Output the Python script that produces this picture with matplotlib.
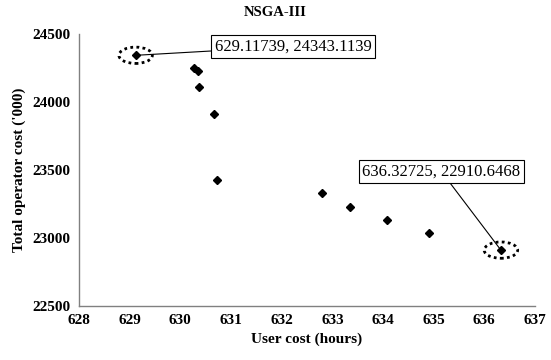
import matplotlib
matplotlib.use("Agg")
import matplotlib.pyplot as plt
from matplotlib.patches import Ellipse

plt.rcParams['font.family'] = ['Liberation Serif', 'DejaVu Serif']

# Pareto front points
user_cost = [629.11739, 630.26, 630.34, 630.37, 630.67, 630.72,
             632.79, 633.35, 634.07, 634.91, 636.32725]
operator_cost = [24343.1139, 24248, 24230, 24108, 23912, 23424,
                 23329, 23230, 23132, 23039, 22910.6468]

x_ticks = [628, 629, 630, 631, 632, 633, 634, 635, 636, 637]
y_ticks = [22500, 23000, 23500, 24000, 24500]

fig = plt.figure(figsize=(5.51, 3.6), dpi=100)
ax = fig.add_axes([0.1434, 0.15, 0.8276, 0.7556])

ax.plot(user_cost, operator_cost, linestyle='none', marker='D',
        markersize=4.5, color='black')

ax.set_xlim(628, 637)
ax.set_ylim(22500, 24500)
ax.set_xticks(x_ticks)
ax.set_yticks(y_ticks)
ax.tick_params(length=0, labelsize=11, pad=6)
for lab in ax.get_xticklabels() + ax.get_yticklabels():
    lab.set_fontweight('bold')

for s in ['top', 'right']:
    ax.spines[s].set_visible(False)
for s in ['left', 'bottom']:
    ax.spines[s].set_color('#808080')
    ax.spines[s].set_linewidth(1.0)

# title sits centred on the whole figure
fig.text(0.5, 0.965, 'NSGA-III', ha='center', va='center',
         fontsize=10.5, fontweight='bold')
ax.set_xlabel('User cost (hours)', fontsize=11, fontweight='bold', labelpad=4)
ax.set_ylabel("Total operator cost ('000)", fontsize=11, fontweight='bold', labelpad=5)

# dotted ellipses around the extreme points and their labels
ends = [(user_cost[0], operator_cost[0], (57, 6.5), 'left', 'center'),
        (user_cost[-1], operator_cost[-1], (-43, 51), 'center', 'bottom')]
for x, y, off, ha, va in ends:
    ax.add_patch(Ellipse((x, y), 0.66, 120, fill=False, edgecolor='black',
                         linestyle=(0, (1, 1.2)), linewidth=2))
    ax.annotate(f'{x}, {y}', xy=(x, y), xytext=off, textcoords='offset points',
                ha=ha, va=va, fontsize=12,
                bbox=dict(boxstyle='square,pad=0.2', fc='white', ec='black', lw=0.8),
                arrowprops=dict(arrowstyle='-', color='black', lw=0.8,
                                shrinkA=0, shrinkB=0))

fig.savefig('out.png', dpi=100)
